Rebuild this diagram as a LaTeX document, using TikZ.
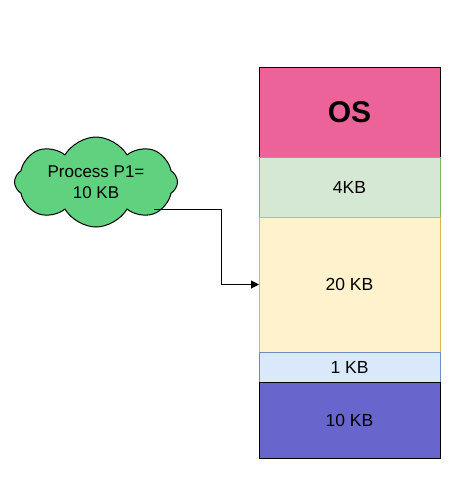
\documentclass[tikz,border=0pt]{standalone}
\usepackage{fontspec}
\setmainfont{Liberation Sans}
\usetikzlibrary{positioning,shapes.symbols,arrows.meta}
\definecolor{oscol}{HTML}{EC6399}
\definecolor{greenfill}{HTML}{D5E8D4}
\definecolor{greenline}{HTML}{82B366}
\definecolor{yellowfill}{HTML}{FFF2CC}
\definecolor{yellowline}{HTML}{D6B656}
\definecolor{bluefill}{HTML}{DAE8FC}
\definecolor{blueline}{HTML}{6C8EBF}
\definecolor{freecol}{HTML}{6866CC}
\definecolor{cloudcol}{HTML}{5FD17F}
\begin{document}
\begin{tikzpicture}[x=1pt, y=-1pt, line width=1pt,
    seg/.style = {draw, rectangle, minimum width=181pt, inner sep=0pt, outer sep=0pt,
                  font=\fontsize{17.5}{21}\selectfont},
    proc/.style = {draw, cloud, cloud puffs=8, cloud puff arc=120, cloud ignores aspect,
                   minimum width=163pt, minimum height=90pt, inner sep=0pt,
                   fill=cloudcol, align=center, font=\fontsize{17}{21}\selectfont}]
    \useasboundingbox (0,0) rectangle (466,498);
    \node[proc] (p1) at (96,182) {Process P1=\\10 KB};
    \node[seg, fill=oscol, minimum height=90pt, font=\fontsize{30}{36}\selectfont\bfseries] (os) at (349.5,112) {OS};
    \node[seg, fill=greenfill, draw=greenline, minimum height=60pt] (kb4) [below=0pt of os] {4KB};
    \node[seg, fill=yellowfill, draw=yellowline, minimum height=135pt] (kb20) [below=0pt of kb4] {20 KB};
    \node[seg, fill=bluefill, draw=blueline, minimum height=30pt] (kb1) [below=0pt of kb20] {1 KB};
    \node[seg, fill=freecol, minimum height=76pt] (kb10) [below=0pt of kb1] {10 KB};
    \coordinate (exit) at (154,209);
    \draw[-{Triangle[length=8pt,width=8pt]}] (exit) -- (221,209) |- (kb20.west);
\end{tikzpicture}
\end{document}
